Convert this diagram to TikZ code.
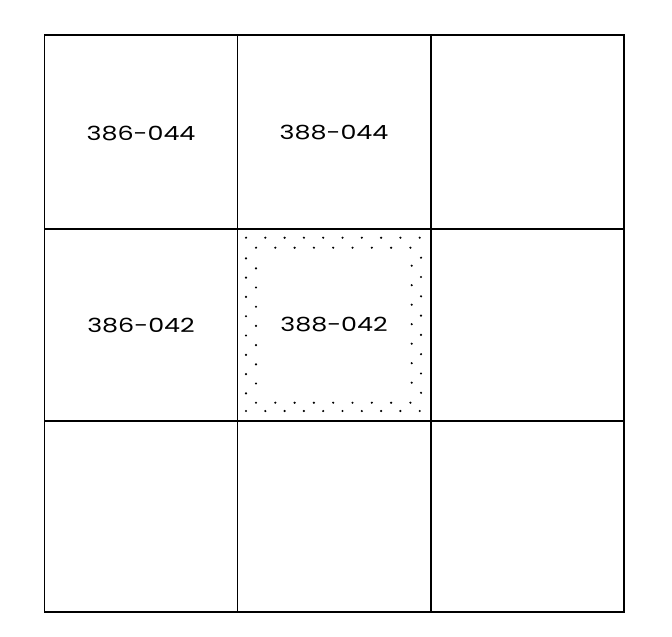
\documentclass[tikz,border=0pt]{standalone}
\usepackage{fontspec}
\setmainfont{Poppins}
\begin{document}
\begin{tikzpicture}[x=1pt,y=-1pt,
  gridline/.style={line width=1.7pt,black},
  lbl/.style={font=\fontsize{19.5}{21}\selectfont,inner sep=0pt,anchor=center},
  dotmark/.style={fill=black,draw=none}]
\useasboundingbox (0,0) rectangle (672,637);
\coordinate (tl) at (44.5,35);
\coordinate (br) at (624,612);
\draw[gridline] (tl) rectangle (br);
\draw[gridline] (237.5,35) -- (237.5,612);
\draw[gridline] (431,35) -- (431,612);
\draw[gridline] (44.5,229) -- (624,229);
\draw[gridline] (44.5,421) -- (624,421);
\node[lbl] (a) at (141,133) {\scalebox{1.3}[1]{386-044}};
\node[lbl] (b) at (334,133) {\scalebox{1.3}[1]{388-044}};
\node[lbl] (c) at (141,325) {\scalebox{1.3}[1]{386-042}};
\node[lbl] (d) at (334,325) {\scalebox{1.3}[1]{388-042}};
% dotted frame
\foreach \i in {0,...,9} {
  \fill[dotmark] (246+19.3*\i,237.7) circle (1.2);
  \fill[dotmark] (246+19.3*\i,411) circle (1.2);
}
\foreach \i in {0,...,8} {
  \fill[dotmark] (256+19.3*\i,247.7) circle (1.2);
  \fill[dotmark] (256+19.3*\i,402.7) circle (1.2);
}
\foreach \j in {0,...,7} {
  \fill[dotmark] (246,258.3+19.3*\j) circle (1.2);
  \fill[dotmark] (421,257.7+19.3*\j) circle (1.2);
}
\foreach \j in {0,...,6} {
  \fill[dotmark] (256,268.3+19.2*\j) circle (1.2);
  \fill[dotmark] (411.7,265.7+19.5*\j) circle (1.2);
}
\end{tikzpicture}
\end{document}
